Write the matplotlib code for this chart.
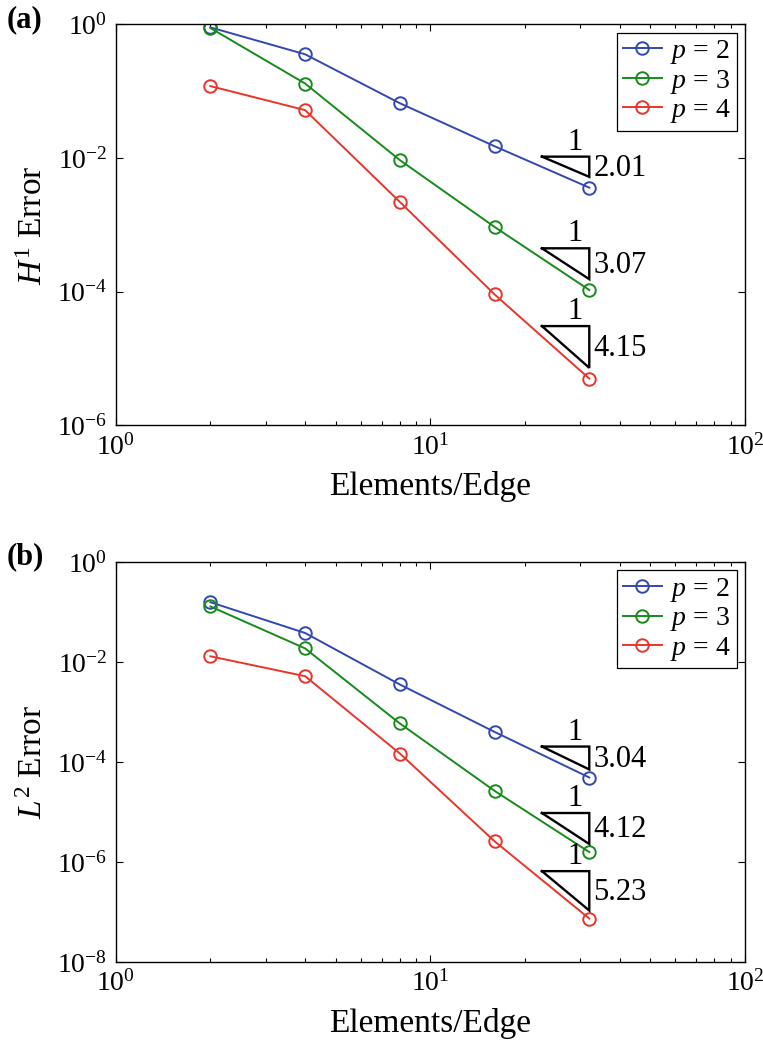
import numpy as np
import matplotlib
matplotlib.use('Agg')
from matplotlib import pyplot as plt
from matplotlib.ticker import NullLocator, NullFormatter

plt.rcParams['font.family'] = ['Liberation Serif', 'DejaVu Serif']
plt.rcParams['mathtext.fontset'] = 'custom'
plt.rcParams['mathtext.rm'] = 'Liberation Serif'
plt.rcParams['mathtext.it'] = 'Liberation Serif:italic'
plt.rcParams['mathtext.bf'] = 'Liberation Serif:bold'

# data
elements = [2, 4, 8, 16, 32]
degrees = [2, 3, 4]

h1_p2 = [0.90, 0.356, 0.066, 0.015, 0.0036]
h1_p3 = [0.88, 0.13, 0.0093, 0.00093, 0.000106]
h1_p4 = [0.119, 0.052, 0.0022, 9.1e-5, 5.0e-6]
h1_rates = ['2.01', '3.07', '4.15']

l2_p2 = [0.157, 0.038, 0.00355, 0.0004, 4.9e-5]
l2_p3 = [0.129, 0.0187, 0.00059, 2.65e-5, 1.58e-6]
l2_p4 = [0.013, 0.0052, 0.000148, 2.6e-6, 7.4e-8]
l2_rates = ['3.04', '4.12', '5.23']

colors = ['#3248b0', '#178a1c', '#e8352b']


def draw_panel(ax, series, rates, ylabel, ymin, yticks):
    for ys, p, c in zip(series, degrees, colors):
        ax.plot(elements, ys, color=c, marker='o', mfc='none', ms=9,
                mew=1.4, lw=1.4, label=r'$p\,=\,%d$' % p)

    # slope triangles next to the last point
    for ys, r in zip(series, rates):
        x2 = elements[-1]
        x1 = x2 / np.sqrt(2)
        yb = ys[-1] * 1.45
        yt = yb * (x2 / x1) ** float(r)
        ax.plot([x1, x2, x2, x1], [yt, yt, yb, yt], color='black', lw=1.7,
                solid_joinstyle='miter')
        ax.annotate('1', (x2 * 2 ** -0.15, yt), xytext=(0, 0),
                    textcoords='offset points', ha='center', va='bottom',
                    fontsize=22)
        ax.annotate(r, (x2, np.sqrt(yt * yb)), xytext=(3, -1),
                    textcoords='offset points', ha='left', va='center',
                    fontsize=22)

    ax.set_xscale('log')
    ax.set_yscale('log')
    ax.set_xlim(1, 100)
    ax.set_ylim(ymin, 1)
    ax.set_yticks(yticks)
    ax.yaxis.set_minor_locator(NullLocator())
    ax.xaxis.set_minor_formatter(NullFormatter())
    ax.tick_params(which='both', direction='in', top=True, right=True,
                   labelsize=20, pad=6)
    ax.tick_params(which='major', length=5, width=0.8)
    ax.tick_params(which='minor', length=3, width=0.8)
    for s in ax.spines.values():
        s.set_linewidth(1.0)
    ax.set_xlabel('Elements/Edge', fontsize=24, labelpad=8)
    ax.set_ylabel(ylabel, fontsize=24, labelpad=6)
    leg = ax.legend(loc='upper right', fontsize=20, fancybox=False,
                    edgecolor='black', framealpha=1, borderaxespad=0.3,
                    handlelength=1.4, handletextpad=0.3, labelspacing=0.05,
                    borderpad=0.2)
    leg.get_frame().set_linewidth(0.9)


fig = plt.figure(figsize=(7.63, 10.44), dpi=100)
ax1 = fig.add_axes([0.1516, 0.5926, 0.8248, 0.3841])
ax2 = fig.add_axes([0.1516, 0.0785, 0.8248, 0.3832])

draw_panel(ax1, [h1_p2, h1_p3, h1_p4], h1_rates, r'$H^1$ Error', 1e-6,
           [1e0, 1e-2, 1e-4, 1e-6])
draw_panel(ax2, [l2_p2, l2_p3, l2_p4], l2_rates, r'$L^2$ Error', 1e-8,
           [1e0, 1e-2, 1e-4, 1e-6, 1e-8])

fig.text(25 / 763, 1 - 20 / 1044, '(a)', fontsize=22, fontweight='bold',
         ha='center', va='center')
fig.text(25 / 763, 1 - 557 / 1044, '(b)', fontsize=22, fontweight='bold',
         ha='center', va='center')

fig.savefig('out.png', dpi=100)
